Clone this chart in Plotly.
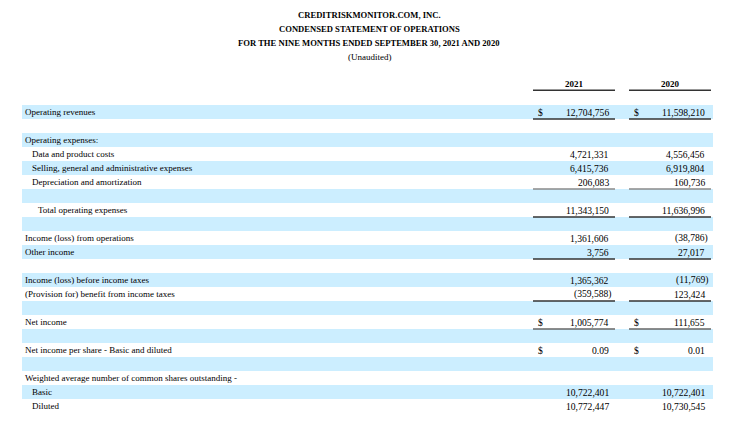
import plotly.graph_objects as go

# statement rows (None = blank spacer row)
labels = [
    "Operating revenues", None, "Operating expenses:",
    "Data and product costs", "Selling, general and administrative expenses",
    "Depreciation and amortization", None, "Total operating expenses", None,
    "Income (loss) from operations", "Other income", None,
    "Income (loss) before income taxes", "(Provision for) benefit from income taxes", None,
    "Net income", None, "Net income per share - Basic and diluted", None,
    "Weighted average number of common shares outstanding -", "Basic", "Diluted",
]
values_2021 = [
    12704756, None, None, 4721331, 6415736, 206083, None, 11343150, None,
    1361606, 3756, None, 1365362, -359588, None, 1005774, None, 0.09, None,
    None, 10722401, 10772447,
]
values_2020 = [
    11598210, None, None, 4556456, 6919804, 160736, None, 11636996, None,
    -38786, 27017, None, -11769, 123424, None, 111655, None, 0.01, None,
    None, 10722401, 10730545,
]
dollar_rows = ["Operating revenues", "Net income", "Net income per share - Basic and diluted"]
per_share_rows = ["Net income per share - Basic and diluted"]
years = ["2021", "2020"]
titles = [
    "CREDITRISKMONITOR.COM, INC.",
    "CONDENSED STATEMENT OF OPERATIONS",
    "FOR THE NINE MONTHS ENDED SEPTEMBER 30, 2021 AND 2020",
    "(Unaudited)",
]

# styling
INDENT = {
    "Data and product costs": 7, "Selling, general and administrative expenses": 7,
    "Depreciation and amortization": 7, "Total operating expenses": 13,
    "Basic": 7, "Diluted": 7,
}
UNDERLINE = {
    "Operating revenues": "#333333", "Depreciation and amortization": "#8a8a8a",
    "Total operating expenses": "#333333", "Other income": "#333333",
    "(Provision for) benefit from income taxes": "#333333", "Net income": "#666666",
}
SHADE = "#CCEEFF"
FONT = "Liberation Serif"
COLS = [dict(x0=533, x1=615, dollar=536, num=611), dict(x0=629, x1=711, dollar=632, num=707)]
ROW0 = 112  # pixel centre of first row
PITCH = 14


def fmt(v, per_share=False):
    s = f"{abs(v):,.2f}" if per_share else f"{abs(v):,.0f}"
    return f"({s})" if v < 0 else s


fig = go.Figure()
fig.add_trace(go.Scatter(x=[0], y=[0], mode="markers", marker=dict(opacity=0), hoverinfo="skip"))

shapes = []
ann = []
for i, lab in enumerate(labels):
    if i % 2 == 0:
        shapes.append(dict(type="rect", xref="x", yref="y", x0=22, x1=713, y0=i - 0.5, y1=i + 0.5,
                           fillcolor=SHADE, line=dict(width=0), layer="below"))
    if lab is None:
        continue
    ann.append(dict(x=23 + INDENT.get(lab, 0), y=i, text=lab, xanchor="left",
                    font=dict(family=FONT, size=9, color="#000000")))
    for c, vals in zip(COLS, [values_2021, values_2020]):
        v = vals[i]
        if v is None:
            continue
        ann.append(dict(x=c["num"] + (2.5 if v < 0 else 0), y=i,
                        text=fmt(v, lab in per_share_rows), xanchor="right",
                        font=dict(family=FONT, size=9.6, color="#000000")))
        if lab in dollar_rows:
            ann.append(dict(x=c["dollar"], y=i, text="$", xanchor="left",
                            font=dict(family=FONT, size=9.6, color="#000000")))
        if lab in UNDERLINE:
            shapes.append(dict(type="line", xref="x", yref="y", x0=c["x0"], x1=c["x1"],
                               y0=i + 0.5, y1=i + 0.5, line=dict(color=UNDERLINE[lab], width=1.5)))

# column headers
for c, yr in zip(COLS, years):
    ann.append(dict(x=(c["x0"] + c["x1"]) / 2, y=-2.0, text=f"<b>{yr}</b>", xanchor="center",
                    font=dict(family=FONT, size=9, color="#000000")))
    shapes.append(dict(type="line", xref="x", yref="y", x0=c["x0"], x1=c["x1"], y0=-1.55, y1=-1.55,
                       line=dict(color="#333333", width=1.5)))

for a in ann:
    a.update(xref="x", yref="y", showarrow=False, yanchor="middle")

title_y = [15, 29, 43, 57]
for t, py in zip(titles, title_y):
    bold = t != "(Unaudited)"
    ann.append(dict(x=369, y=1 - py / 428, xref="x", yref="paper", showarrow=False,
                    text=f"<b>{t}</b>" if bold else t, xanchor="center", yanchor="middle",
                    font=dict(family=FONT, size=8.6 if bold else 9, color="#000000")))

fig.update_layout(
    width=731, height=428,
    margin=dict(l=0, r=0, t=0, b=0),
    paper_bgcolor="white", plot_bgcolor="white",
    showlegend=False,
    xaxis=dict(range=[0, 731], visible=False, fixedrange=True),
    yaxis=dict(range=[(428 - ROW0) / PITCH, -ROW0 / PITCH], visible=False, fixedrange=True),
    shapes=shapes, annotations=ann,
)

fig.write_html("out.html", config={"displayModeBar": False},
               post_script="document.body.style.margin='0';")
